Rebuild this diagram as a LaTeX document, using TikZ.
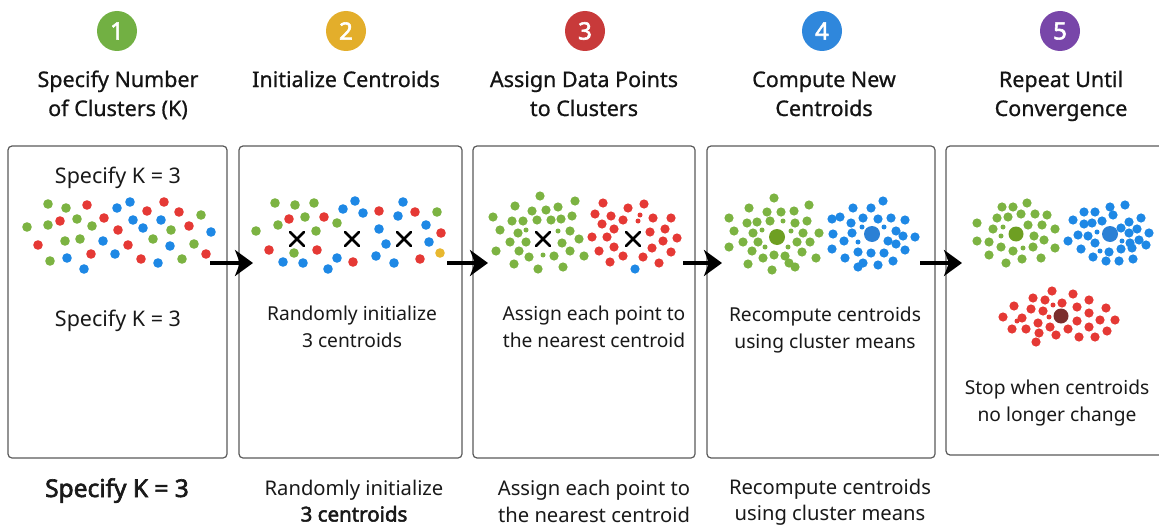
\documentclass[tikz,border=0pt]{standalone}
\usepackage{fontspec}
\setmainfont{Noto Sans}[AutoFakeBold=2.5]
\newfontfamily\ttlfont{Noto Sans}[FakeBold=0.8]
\usetikzlibrary{arrows.meta}
\definecolor{cg}{HTML}{7CB342}
\definecolor{cr}{HTML}{E53935}
\definecolor{cb}{HTML}{1E88E5}
\definecolor{cy}{HTML}{E8B830}
\definecolor{ccg}{HTML}{6E9F22}
\definecolor{ccb}{HTML}{2B80D5}
\definecolor{ccr}{HTML}{7B2E2E}
\definecolor{nA}{HTML}{72B043}
\definecolor{nB}{HTML}{E3AE2B}
\definecolor{nC}{HTML}{C83A3A}
\definecolor{nD}{HTML}{2F87DC}
\definecolor{nE}{HTML}{7846A9}
\definecolor{boxline}{HTML}{5A5A5A}
\tikzset{
  box/.style={draw=boxline, line width=1.2pt, rounded corners=4pt, fill=none, inner sep=0pt},
  num/.style={circle, minimum size=40pt, inner sep=0pt, text=white, font=\fontsize{24}{24}\selectfont\bfseries},
  ttl/.style={anchor=base, inner sep=0pt, font=\ttlfont\fontsize{21.5}{24}\selectfont, text=black!92},
  txt/.style={anchor=base, inner sep=0pt, font=\fontsize{19.2}{22}\selectfont, text=black!90},
  ktxt/.style={anchor=base, inner sep=0pt, font=\fontsize{21.5}{24}\selectfont, text=black!90},
  btxt/.style={anchor=base, inner sep=0pt, font=\fontsize{20.2}{22}\selectfont, text=black!90},
  arr/.style={line width=3.2pt, -{Stealth[length=18pt, width=26pt, inset=5pt]}},
  xm/.style={line width=2.6pt, black, line cap=round},
}
\begin{document}
\begin{tikzpicture}[x=1pt, y=-1pt]
\useasboundingbox (0,0) rectangle (1159,527);
\fill[white] (0,0) rectangle (1159,527);
\begin{scope}
\clip (0,0) rectangle (1159,527);
% boxes
\node[box, minimum width=219pt, minimum height=312pt] (b1) at (117.5,302) {};
\node[box, minimum width=223pt, minimum height=312pt] (b2) at (350.5,302) {};
\node[box, minimum width=222pt, minimum height=312pt] (b3) at (584,302) {};
\node[box, minimum width=228pt, minimum height=312pt] (b4) at (821,302) {};
\node[box, minimum width=222pt, minimum height=309pt] (b5) at (1057,300.5) {};
\end{scope}

% number circles
\node[num, fill=nA] (n1) at (117,31) {1};
\node[num, fill=nB] (n2) at (346,31) {2};
\node[num, fill=nC] (n3) at (585,31) {3};
\node[num, fill=nD] (n4) at (822,31) {4};
\node[num, fill=nE] (n5) at (1060,31) {5};

% titles
\node[ttl] (t1a) at (118,87) {Specify Number};
\node[ttl] (t1b) at (118,116) {of Clusters (K)};
\node[ttl] (t2a) at (346,87) {Initialize Centroids};
\node[ttl] (t3a) at (584,87) {Assign Data Points};
\node[ttl] (t3b) at (584,116) {to Clusters};
\node[ttl] (t4a) at (824,87) {Compute New};
\node[ttl] (t4b) at (824,116) {Centroids};
\node[ttl] (t5a) at (1061,87) {Repeat Until};
\node[ttl] (t5b) at (1061,116) {Convergence};

% box texts
\node[ktxt] (s1a) at (118,183) {Specify K = 3};
\node[ktxt] (s1b) at (118,326) {Specify K = 3};
\node[txt] (s2a) at (352,320) {Randomly initialize};
\node[txt] (s2b) at (352,347) {3 centroids};
\node[txt] (s3a) at (594,320) {Assign each point to};
\node[txt] (s3b) at (594,347) {the nearest centroid};
\node[txt] (s4a) at (825,321) {Recompute centroids};
\node[txt] (s4b) at (825,348) {using cluster means};
\node[txt] (s5a) at (1057,394) {Stop when centroids};
\node[txt] (s5b) at (1057,421) {no longer change};

% bottom texts
\node[btxt, font=\fontsize{24.5}{26}\selectfont\bfseries] (u1) at (117,497) {Specify K = 3};
\node[btxt] (u2a) at (354,495) {Randomly initialize};
\node[btxt, font=\fontsize{20.5}{22}\selectfont\bfseries] (u2b) at (354,521.5) {3 centroids};
\node[btxt] (u3a) at (594,495) {Assign each point to};
\node[btxt] (u3b) at (594,522) {the nearest centroid};
\node[btxt] (u4a) at (830,494) {Recompute centroids};
\node[btxt] (u4b) at (830,520) {using cluster means};

% ---------- box 1 scatter
\foreach \x/\y in {48/204,66/208,201/215,27/227,48/225,77/219,92/226,171/230,65/241,80/239,153/239,194/244,50/261,182/259}
  \fill[cg] (\x,\y) circle (4.8pt);
\foreach \x/\y in {87/205,147/211,164/202,179/212,60/221,104/218,118/230,189/226,38/245,128/245,91/254,141/259,206/254}
  \fill[cr] (\x,\y) circle (4.8pt);
\foreach \x/\y in {117/208,130/202,133/220,143/228,161/220,211/232,103/241,170/246,67/258,115/254,158/263,84/269}
  \fill[cb] (\x,\y) circle (4.8pt);

% ---------- box 2 scatter
\foreach \x/\y in {275/203,295/205,314/203,305/217,437/212,256/231,278/225,316/231,337/223,294/253}
  \fill[cg] (\x,\y) circle (4.8pt);
\foreach \x/\y in {289/219,324/217,379/211,415/212,441/233,269/250,317/250,420/259,353/262}
  \fill[cr] (\x,\y) circle (4.8pt);
\foreach \x/\y in {355/201,343/209,363/213,403/202,398/216,379/229,426/225,386/244,429/242,376/256,283/262,303/263,337/258,394/263,328/269}
  \fill[cb] (\x,\y) circle (4.8pt);
\fill[cy] (440,253) circle (4.8pt);
\foreach \x/\y in {297/239,352/239,404/239}
  \draw[xm] (\x,\y) ++(-7,-7) -- ++(14,14) ++(0,-14) -- ++(-14,14);

% ---------- box 3 scatter
\foreach \x/\y in {540/196,515/206,532/211,546/210,558/207,575/201,493/217,512/221,523/221,537/220,551/220,561/219,572/216,500/230,518/233,570/231,510/242,526/242,562/243,579/239,496/251,519/251,529/257,554/256,570/251,584/256,514/264,538/269,563/267}
  \fill[cg] (\x,\y) circle (4.6pt);
\foreach \x/\y in {526/230,558/231,543/255}
  \fill[cg] (\x,\y) circle (2.5pt);
\foreach \x/\y in {603/203,628/208,644/204,595/214,611/216,623/220,653/218,671/218,602/224,614/229,650/232,665/229,592/237,607/237,663/241,677/238,599/251,614/247,623/256,643/257,652/248,671/252,610/262,659/263}
  \fill[cr] (\x,\y) circle (4.6pt);
\foreach \x/\y in {640/215,638/221}
  \fill[cr] (\x,\y) circle (2.5pt);
\fill[cb] (635,269) circle (4.6pt);
\draw[xm] (543,239) ++(-7,-7) -- ++(14,14) ++(0,-14) -- ++(-14,14);
\draw[xm] (633,239) ++(-7,-7) -- ++(14,14) ++(0,-14) -- ++(-14,14);

% ---------- box 4 scatter
\foreach \x/\y in {774/198,749/208,809/205,729/218,767/212,781/212,794/211,747/223,757/222,770/221,795/223,807/221,734/231,753/233,803/233,819/233,743/242,758/242,797/242,810/242,729/247,752/251,802/252,763/258,774/255,785/256,816/258,748/264,789/263,795/267,772/270}
  \fill[cg] (\x,\y) circle (4.6pt);
\foreach \x/\y in {783/221,762/230,791/231,765/247,788/247}
  \fill[cg] (\x,\y) circle (2.5pt);
\fill[ccg] (777,237) circle (8pt);
\foreach \x/\y in {883/201,853/208,871/208,840/217,863/218,878/219,891/218,905/220,832/219,851/223,896/231,833/234,852/233,903/236,915/237,844/241,888/241,896/244,832/249,858/252,871/253,884/253,905/250,845/258,863/263,878/265,893/261,858/267}
  \fill[cb] (\x,\y) circle (4.6pt);
\foreach \x/\y in {862/227,884/227,858/242}
  \fill[cb] (\x,\y) circle (2.5pt);
\fill[ccb] (872,234) circle (8pt);

% ---------- box 5 scatter
\foreach \x/\y in {1002/207,1013/207,1027/203,977/223,997/218,1008/217,1021/214,1035/214,1047/215,993/229,1028/225,1042/225,1055/229,977/241,989/242,1034/236,1044/240,1001/247,1013/251,1033/247,1055/248,989/255,1006/263,1022/259,1041/258}
  \fill[cg] (\x,\y) circle (4.6pt);
\foreach \x/\y in {1003/227,1001/236,1023/248}
  \fill[cg] (\x,\y) circle (2.5pt);
\fill[ccg] (1016,234) circle (7.5pt);
\foreach \x/\y in {1110/207,1125/205,1084/212,1095/212,1113/215,1141/218,1073/220,1084/224,1092/223,1102/221,1129/222,1121/228,1137/229,1149/233,1078/235,1088/236,1129/233,1068/241,1095/243,1130/243,1139/240,1081/249,1109/252,1121/249,1132/248,1146/245,1093/257,1106/261,1119/261,1133/259}
  \fill[cb] (\x,\y) circle (4.6pt);
\foreach \x/\y in {1097/232,1122/241,1100/251}
  \fill[cb] (\x,\y) circle (2.5pt);
\fill[ccb] (1110,234) circle (8pt);
\foreach \x/\y in {1052/291,1073/294,1033/298,1045/300,1062/303,1089/300,1014/306,1077/307,1106/308,1031/309,1043/311,1089/313,1003/317,1022/318,1077/321,1100/320,1115/320,1012/329,1026/329,1038/323,1050/327,1068/329,1089/327,1107/331,1039/333,1056/335,1079/337,1095/337,1036/342}
  \fill[cr] (\x,\y) circle (4.6pt);
\foreach \x/\y in {1053/305,1017/321,1049/317}
  \fill[cr] (\x,\y) circle (2.5pt);
\fill[ccr] (1061,316) circle (7.5pt);

% ---------- arrows
\coordinate (a1s) at (210,263); \coordinate (a1e) at (253,263);
\coordinate (a2s) at (447,263); \coordinate (a2e) at (488,263);
\coordinate (a3s) at (683,263); \coordinate (a3e) at (722,263);
\coordinate (a4s) at (920,263); \coordinate (a4e) at (962,263);
\draw[arr] (a1s) -- (a1e);
\draw[arr] (a2s) -- (a2e);
\draw[arr] (a3s) -- (a3e);
\draw[arr] (a4s) -- (a4e);
\end{tikzpicture}
\end{document}
